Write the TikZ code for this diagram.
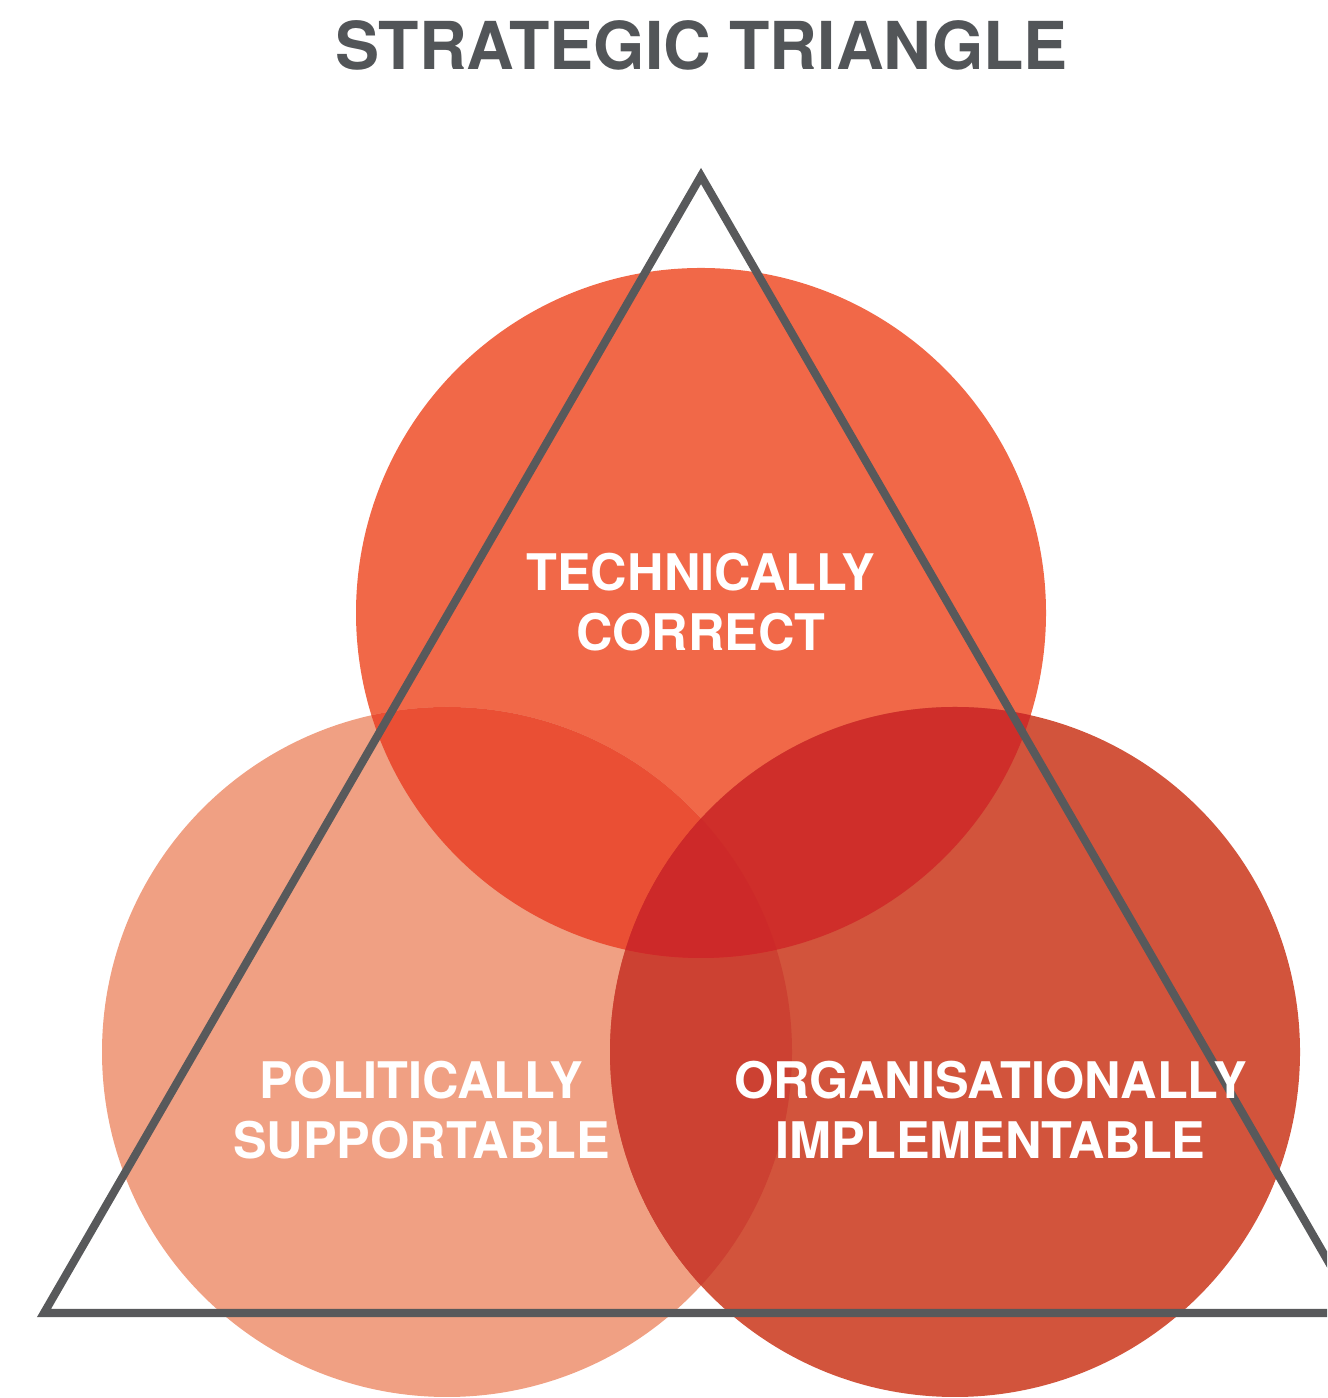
\documentclass[tikz,border=0pt]{standalone}
\usepackage{fontspec}
\setmainfont{TeX Gyre Heros}
\usepackage{tikz}
\usetikzlibrary{positioning, shapes.geometric}

\definecolor{titlegray}{HTML}{525558}
\definecolor{linegray}{HTML}{58595B}
\definecolor{techred}{HTML}{F16848}
\definecolor{polpink}{HTML}{F0A083}
\definecolor{orgred}{HTML}{D2543C}
\definecolor{techpol}{HTML}{EA4F34}
\definecolor{techorg}{HTML}{CF2E2A}
\definecolor{polorg}{HTML}{CC4132}
\definecolor{allred}{HTML}{CD2929}

\tikzset{
	titletext/.style={font=\fontsize{18.8}{22}\selectfont\bfseries, text=titlegray, inner sep=0pt}
}
\tikzset{
	labeltext/.style={font=\fontsize{14.35}{17.1}\selectfont\bfseries, text=white, align=center, inner sep=0pt}
}
\tikzset{
	blob/.style={circle, minimum size=6.9cm, inner sep=0pt}
}

\begin{document}
\begin{tikzpicture}
  \clip (0,0) rectangle (13.27,13.98);
  \node[titletext] (title) at (7.015,13.53) {STRATEGIC TRIANGLE};

  % the three circles
  \foreach \n/\x/\y/\c in {tech/7.01/7.85/techred, pol/4.47/3.46/polpink, org/9.55/3.46/orgred} {
    \node[blob, fill=\c] (\n) at (\x,\y) {};
  }

  % overlaps
  \begin{scope}
    \clip (pol.center) circle (3.45);
    \fill[polorg] (org.center) circle (3.45);
  \end{scope}
  \begin{scope}
    \clip (tech.center) circle (3.45);
    \fill[techpol] (pol.center) circle (3.45);
    \fill[techorg] (org.center) circle (3.45);
    \clip (pol.center) circle (3.45);
    \fill[allred] (org.center) circle (3.45);
  \end{scope}

  % triangle
  \coordinate (apex) at (7.01,12.22);
  \coordinate (lcorner) at (0.44,0.85);
  \coordinate (rcorner) at (13.58,0.85);
  \draw[linegray, line width=2.3pt, line join=miter] (lcorner) -- (apex) -- (rcorner) -- cycle;

  \node[labeltext] (techlabel) at (7.01,7.955) {TECHNICALLY\\CORRECT};
  \node[labeltext] (pollabel) at (4.215,2.88) {POLITICALLY\\SUPPORTABLE};
  \node[labeltext] (orglabel) at (9.905,2.88) {ORGANISATIONALLY\\IMPLEMENTABLE};
\end{tikzpicture}
\end{document}
